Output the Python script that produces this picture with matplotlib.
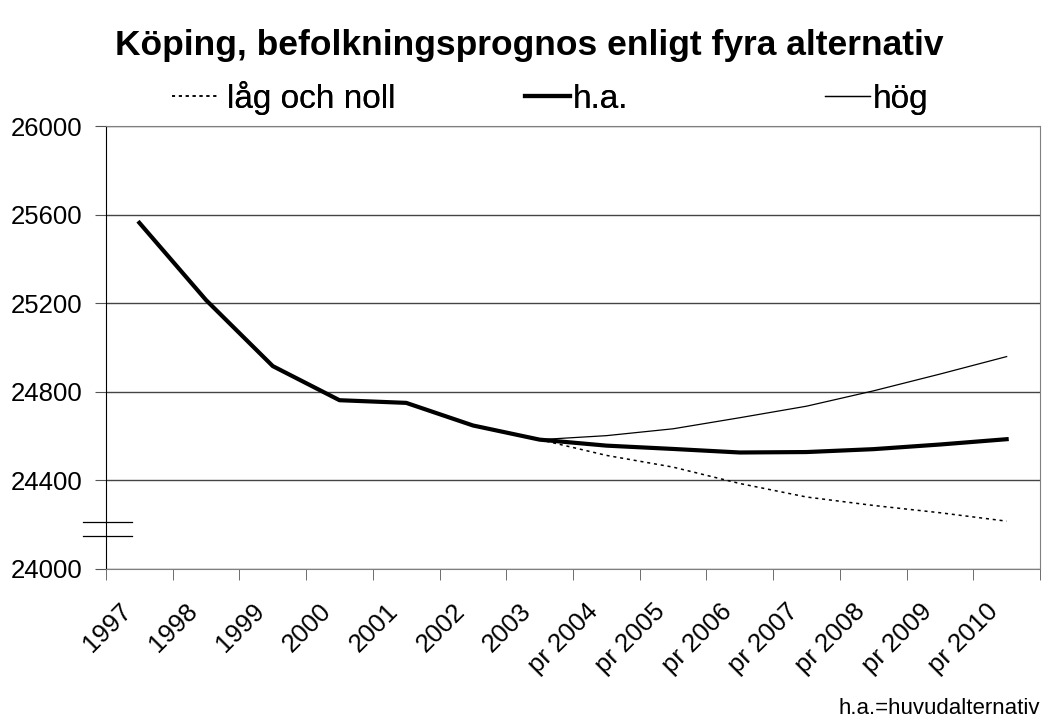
import numpy as np
import matplotlib.pyplot as plt
from matplotlib.lines import Line2D
import matplotlib.transforms as mtransforms

plt.rcParams['font.family'] = ['Liberation Sans', 'DejaVu Sans']

years = ["1997", "1998", "1999", "2000", "2001", "2002", "2003",
         "pr 2004", "pr 2005", "pr 2006", "pr 2007", "pr 2008", "pr 2009", "pr 2010"]
ha_vals = [25563, 25214, 24916, 24762, 24750, 24648, 24584,
           24557, 24542, 24526, 24528, 24541, 24562, 24586]
hog_vals = [np.nan] * 6 + [24584, 24602, 24633, 24683, 24735, 24804, 24880, 24959]
lag_vals = [np.nan] * 6 + [24584, 24513, 24460, 24386, 24325, 24287, 24254, 24216]

fig = plt.figure(figsize=(10.49, 7.23), dpi=100)
ax = fig.add_axes([106 / 1049, 1 - 569 / 723, 934 / 1049, 443 / 723])

x = np.arange(len(years))
l_lag, = ax.plot(x, lag_vals, color='black', lw=1.1, linestyle=(0, (2, 2.5)))
l_ha, = ax.plot(x, ha_vals, color='black', lw=3.0, solid_joinstyle='round')
l_hog, = ax.plot(x, hog_vals, color='black', lw=0.9)

ax.set_xlim(-0.5, len(years) - 0.5)
ax.set_ylim(24000, 26000)
ax.set_yticks(np.arange(24000, 26001, 400))
ax.yaxis.grid(True, color='#444444', lw=1.0)
ax.set_axisbelow(True)

for s in ['top', 'right', 'bottom']:
    ax.spines[s].set_color('#808080')
ax.spines['left'].set_color('black')

ax.tick_params(axis='y', labelsize=18.5, length=8, color='#555555', pad=9)
ax.set_xticks(np.arange(-0.5, len(years), 1), minor=True)
ax.set_xticks(x)
ax.set_xticklabels(years, rotation=45, ha='right', va='center',
                   rotation_mode='anchor', fontsize=18.5)
ax.tick_params(axis='x', which='major', length=0, pad=28)
ax.tick_params(axis='x', which='minor', length=8, color='#555555')
shift = mtransforms.ScaledTranslation(-12 / 100, 0, fig.dpi_scale_trans)
for lab in ax.get_xticklabels():
    lab.set_transform(lab.get_transform() + shift)

# axis break marks (two short strokes across the y axis)
brk = mtransforms.blended_transform_factory(fig.transFigure, ax.transData)
for yb in [24210, 24150]:
    ax.add_line(Line2D([83 / 1049, 132 / 1049], [yb, yb], transform=brk,
                       color='black', lw=0.9, clip_on=False))

fig.text(0.505, 1 - 45 / 723, "Köping, befolkningsprognos enligt fyra alternativ",
         fontsize=25.5, fontweight='bold', ha='center', va='center')

legend_items = [(l_lag, "låg och noll", 172, 0.3), (l_ha, "h.a.", 525, 0.08),
                (l_hog, "hög", 825, 0.08)]
for h, lbl, px, tp in legend_items:
    leg = fig.legend([h], [lbl], loc='lower left', bbox_to_anchor=(px / 1049, 1 - 115 / 723),
                     frameon=False, fontsize=24, handlelength=1.35, handletextpad=tp,
                     borderaxespad=0, borderpad=0)
    fig.add_artist(leg)

fig.text(1040 / 1049, 1 - 708 / 723, "h.a.=huvudalternativ", fontsize=16,
         ha='right', va='center')

fig.savefig("out.png", dpi=100)
